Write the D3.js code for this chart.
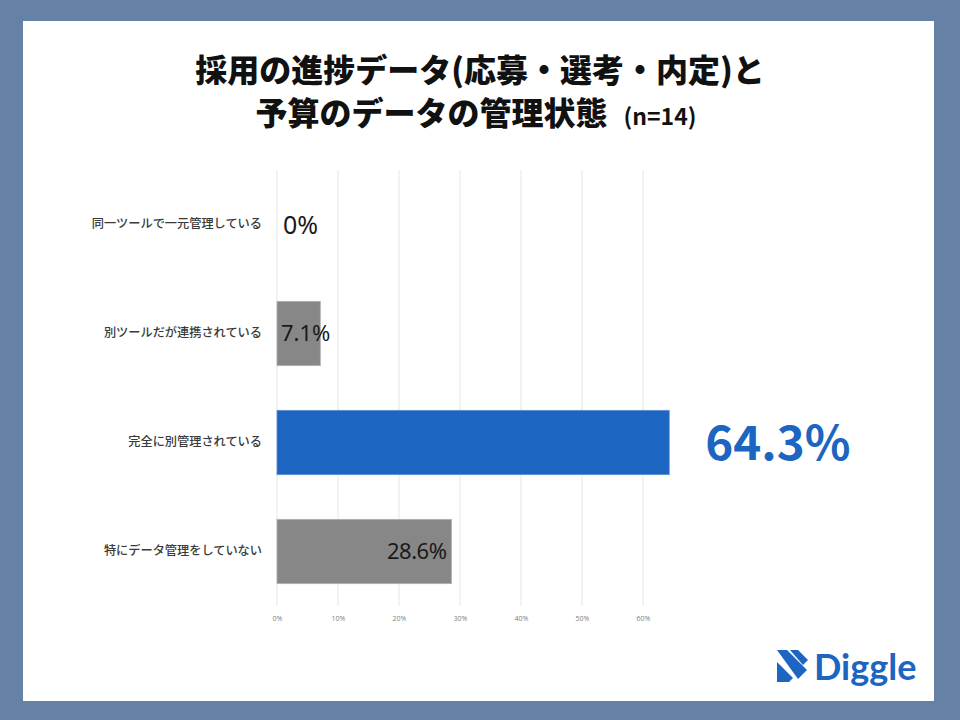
<!DOCTYPE html>
<html>
<head>
<meta charset="utf-8">
<script src="https://cdn.jsdelivr.net/npm/d3@7"></script>
<style>
  body { margin: 0; background: #6581a5; }
  svg { display: block; }
</style>
</head>
<body>
<div class="vis-barchart"></div>
<script>
// chart data
const categories = [
  "同一ツールで一元管理している",
  "別ツールだが連携されている",
  "完全に別管理されている",
  "特にデータ管理をしていない"
];
const values = [0, 7.1, 64.3, 28.6];
const valueLabels = ["0%", "7.1%", "64.3%", "28.6%"];
const xTicks = [0, 10, 20, 30, 40, 50, 60];
const titleLines = ["採用の進捗データ(応募・選考・内定)と", "予算のデータの管理状態"];
const titleNote = "(n=14)";

const W = 960, H = 720;
const jp = "'Noto Sans CJK JP', 'Noto Sans', sans-serif";

const svg = d3.select(".vis-barchart")
  .append("svg")
  .attr("width", W)
  .attr("height", H);

// background frame + white panel
svg.append("rect").attr("width", W).attr("height", H).attr("fill", "#6581a5");
svg.append("rect")
  .attr("x", 23).attr("y", 21)
  .attr("width", 911).attr("height", 680)
  .attr("fill", "#fff");

// title
svg.append("text")
  .attr("x", 480).attr("y", 82)
  .attr("text-anchor", "middle")
  .style("font-family", jp).style("font-weight", 900).style("font-size", "32px")
  .attr("fill", "#111")
  .text(titleLines[0]);

const t2 = svg.append("text")
  .attr("x", 476).attr("y", 125)
  .attr("text-anchor", "middle")
  .style("font-family", jp).style("font-weight", 900).style("font-size", "32px")
  .attr("fill", "#111");
t2.append("tspan").text(titleLines[1]);
t2.append("tspan").attr("dx", 16).style("font-size", "23px").style("font-weight", 700).text(titleNote);

// chart area
const margin = { top: 170, left: 277 };
const width = 427, height = 436;
const g = svg.append("g").attr("transform", "translate(" + margin.left + "," + margin.top + ")");

const x = d3.scaleLinear().domain([0, 70]).range([0, width]);
const y = d3.scaleBand()
  .domain(categories)
  .range([0, height])
  .paddingInner(0.41)
  .paddingOuter(0.205);

// gridlines
g.selectAll(".grid")
  .data(xTicks)
  .enter()
  .append("line")
  .attr("class", "grid")
  .attr("x1", d => x(d)).attr("x2", d => x(d))
  .attr("y1", 0).attr("y2", height)
  .attr("stroke", "#e6e6e6")
  .attr("stroke-width", 1);

// x axis labels
const xAxis = g.append("g")
  .attr("transform", "translate(0," + height + ")")
  .call(d3.axisBottom(x).tickValues(xTicks).tickSize(0).tickPadding(10).tickFormat(d => d + "%"));
xAxis.select(".domain").remove();
xAxis.selectAll("text")
  .style("font-family", "'Open Sans', sans-serif")
  .style("font-size", "7px")
  .attr("fill", "#808080");

// y axis labels
const yAxis = g.append("g")
  .call(d3.axisLeft(y).tickSize(0).tickPadding(15));
yAxis.select(".domain").remove();
yAxis.selectAll("text")
  .style("font-family", jp)
  .style("font-size", "12.2px")
  .style("font-weight", 500)
  .attr("fill", "#3a3a3a");

// bars
const data = categories.map((c, i) => ({ cat: c, val: values[i], label: valueLabels[i], idx: i }));
const maxVal = d3.max(values);

g.selectAll("rect.bar")
  .data(data)
  .enter()
  .append("rect")
  .attr("class", "bar")
  .attr("x", x(0))
  .attr("y", d => y(d.cat))
  .attr("width", d => x(d.val) - x(0))
  .attr("height", y.bandwidth())
  .attr("fill", d => d.val === maxVal ? "#1c66c2" : "#878787")
  .attr("stroke", d => d.val === maxVal ? "#5a8fd4" : "#b0b0b0")
  .attr("stroke-width", 0.8);

// value labels
const fmt = {
  0: { size: 25, anchor: "start", dx: 6, weight: 400, color: "#1a1a1a" },
  1: { size: 22, anchor: "start", dx: 4, weight: 400, color: "#1a1a1a" },
  2: { size: 47.5, anchor: "start", dx: 36, weight: 700, color: "#1c66c2" },
  3: { size: 22, anchor: "end", dx: -5, weight: 400, color: "#1a1a1a" }
};

g.selectAll("text.val")
  .data(data)
  .enter()
  .append("text")
  .attr("class", "val")
  .attr("x", d => {
    const f = fmt[d.idx];
    if (d.idx === 0 || d.idx === 1) return x(0) + f.dx;
    return x(d.val) + f.dx;
  })
  .attr("y", d => y(d.cat) + y.bandwidth() / 2)
  .attr("dy", "0.36em")
  .attr("text-anchor", d => fmt[d.idx].anchor)
  .style("font-family", d => d.idx === 2 ? jp : "'Noto Sans', sans-serif")
  .style("font-size", d => fmt[d.idx].size + "px")
  .style("font-weight", d => fmt[d.idx].weight)
  .style("letter-spacing", d => d.idx === 3 ? "-0.5px" : "0px")
  .attr("fill", d => fmt[d.idx].color)
  .text(d => d.label);

// logo
const logo = svg.append("g").attr("transform", "translate(777,650)");
logo.append("path")
  .attr("d", "M0,0 L10,0 L30,20 L21,29 Z")
  .attr("fill", "#1c66c2");
logo.append("path")
  .attr("d", "M13,0 L21,0 L31,10 L26,15 Z")
  .attr("fill", "#1c66c2");
logo.append("path")
  .attr("d", "M0,12 L16,28 L12,32 L0,32 Z")
  .attr("fill", "#1c66c2");
svg.append("text")
  .attr("x", 814).attr("y", 680)
  .style("font-family", "Lato, 'Open Sans', sans-serif")
  .style("font-weight", 700)
  .style("font-size", "36px")
  .attr("fill", "#1c66c2")
  .text("Diggle");
</script>
</body>
</html>
